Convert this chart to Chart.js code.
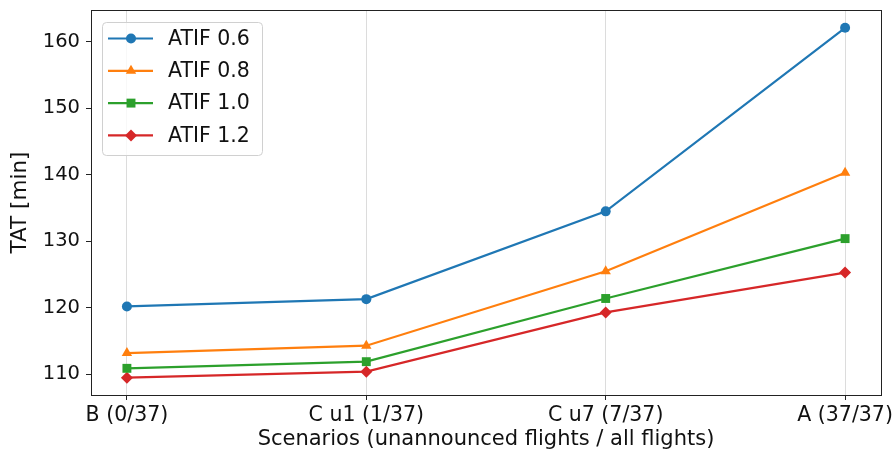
<!DOCTYPE html>
<html>
<head>
<meta charset="utf-8">
<script src="https://cdn.jsdelivr.net/npm/chart.js@4.4.1/dist/chart.umd.min.js"></script>
<style>
html,body{margin:0;padding:0;background:#fff;}
#wrap{width:896px;height:454px;}
</style>
</head>
<body>
<div id="wrap"><canvas id="c" width="896" height="454"></canvas></div>
<script>
const categories = ['B (0/37)', 'C u1 (1/37)', 'C u7 (7/37)', 'A (37/37)'];
const seriesLabels = ['ATIF 0.6', 'ATIF 0.8', 'ATIF 1.0', 'ATIF 1.2'];
const atif06 = [120.2, 121.3, 134.5, 162.1];
const atif08 = [113.2, 114.3, 125.5, 140.3];
const atif10 = [110.9, 111.9, 121.4, 130.4];
const atif12 = [109.5, 110.4, 119.3, 125.3];
const yTicks = [110, 120, 130, 140, 150, 160];
const xTitle = 'Scenarios (unannounced flights / all flights)';
const yTitle = 'TAT [min]';

const colors = ['#1f77b4', '#ff7f0e', '#2ca02c', '#d62728'];
const styles = ['circle', 'triangle', 'rect', 'rectRot'];
const radii = [5, 6, 6.3, 6];
const allSeries = [atif06, atif08, atif10, atif12];
const FONT = "'DejaVu Sans', sans-serif";

const datasets = allSeries.map((vals, k) => ({
  label: seriesLabels[k],
  data: vals.map((v, i) => ({x: i, y: v})),
  borderColor: colors[k],
  backgroundColor: colors[k],
  borderWidth: 2.2,
  pointStyle: styles[k],
  pointRadius: radii[k],
  pointBorderWidth: 0,
  pointBackgroundColor: colors[k],
  tension: 0
}));

const boxPlugin = {
  id: 'box',
  afterDatasetsDraw(chart) {
    const a = chart.chartArea, ctx = chart.ctx;
    ctx.save();
    ctx.strokeStyle = '#222';
    ctx.lineWidth = 1;
    ctx.strokeRect(Math.round(a.left) + 0.5, Math.round(a.top) + 0.5,
      Math.round(a.right - a.left), Math.round(a.bottom - a.top));
    ctx.restore();
  }
};

const legendPlugin = {
  id: 'innerLegend',
  afterDraw(chart) {
    const a = chart.chartArea, ctx = chart.ctx;
    const x0 = a.left + 11, y0 = a.top + 12, w = 160, h = 133;
    ctx.save();
    ctx.beginPath();
    if (ctx.roundRect) ctx.roundRect(x0 + 0.5, y0 + 0.5, w, h, 4); else ctx.rect(x0 + 0.5, y0 + 0.5, w, h);
    ctx.fillStyle = 'rgba(255,255,255,0.8)';
    ctx.fill();
    ctx.strokeStyle = '#d0d0d0';
    ctx.lineWidth = 1;
    ctx.stroke();
    ctx.font = `20.5px ${FONT}`;
    ctx.textBaseline = 'middle';
    chart.data.datasets.forEach((ds, k) => {
      const cy = y0 + 16.5 + k * 32.3;
      ctx.strokeStyle = ds.borderColor;
      ctx.lineWidth = 2.2;
      ctx.beginPath();
      ctx.moveTo(x0 + 6, cy);
      ctx.lineTo(x0 + 51, cy);
      ctx.stroke();
      ctx.fillStyle = ds.borderColor;
      Chart.helpers.drawPoint(ctx, {pointStyle: ds.pointStyle, radius: ds.pointRadius, borderWidth: 0, rotation: 0}, x0 + 29, cy);
      ctx.fillStyle = '#111';
      ctx.fillText(ds.label, x0 + 66, cy + 1);
    });
    ctx.restore();
  }
};

new Chart(document.getElementById('c'), {
  type: 'line',
  data: {datasets},
  plugins: [boxPlugin, legendPlugin],
  options: {
    responsive: false,
    animation: false,
    devicePixelRatio: 1,
    layout: {padding: {left: 0, top: 10, right: 15, bottom: 0}},
    plugins: {legend: {display: false}, tooltip: {enabled: false}},
    scales: {
      x: {
        type: 'linear',
        min: -0.15, max: 3.15,
        afterBuildTicks(s) { s.ticks = categories.map((_, i) => ({value: i})); },
        afterFit(s) { s.height = 59; s.paddingLeft = 0; s.paddingRight = 0; },
        ticks: {
          callback: (v) => categories[v],
          autoSkip: false, maxRotation: 0,
          color: '#111', font: {family: FONT, size: 20.5}, padding: 3
        },
        grid: {color: '#dcdcdc', lineWidth: 1, tickColor: '#222', tickLength: 5},
        border: {display: false},
        title: {display: true, text: xTitle, color: '#111', font: {family: FONT, size: 21}, padding: {top: 0, bottom: 2}}
      },
      y: {
        type: 'linear',
        min: 106.89, max: 164.77,
        afterBuildTicks(s) { s.ticks = yTicks.map(v => ({value: v})); },
        afterFit(s) { s.width = 91; s.paddingTop = 0; s.paddingBottom = 0; },
        ticks: {color: '#111', font: {family: FONT, size: 19.5}, padding: 6, callback: v => String(v)},
        grid: {drawOnChartArea: false, tickColor: '#222', tickLength: 5},
        border: {display: false},
        title: {display: true, text: yTitle, color: '#111', font: {family: FONT, size: 21.5}, padding: {top: 8, bottom: 0}}
      }
    }
  }
});
</script>
</body>
</html>
